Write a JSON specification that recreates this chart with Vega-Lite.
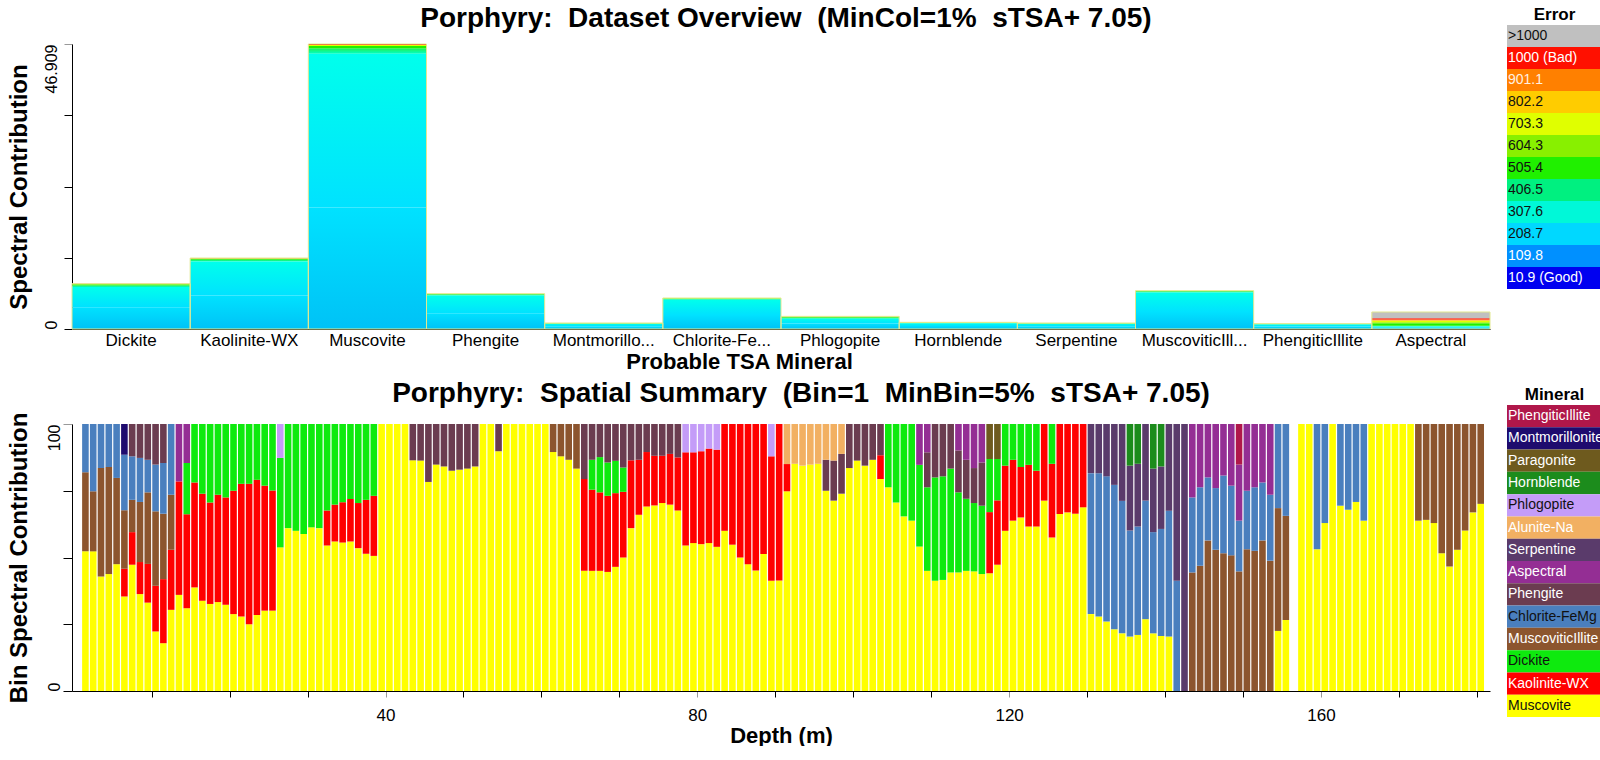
{
"$schema": "https://vega.github.io/schema/vega-lite/v6.json",
"background": "white",
"padding": {"left": 6, "top": 4, "right": 0, "bottom": 0},
"config": {"view": {"stroke": null}, "font": "Liberation Sans",
  "axis": {"grid": false, "domainColor": "black", "tickColor": "black", "labelColor": "black", "titleColor": "black", "labelFont": "Liberation Sans", "titleFont": "Liberation Sans"},
  "title": {"font": "Liberation Sans", "color": "black"}},
"columns": 2,
"align": "each",
"bounds": "full",
"spacing": {"row": 8, "column": 16},
"resolve": {"scale": {"color": "independent"}},
"datasets": {
"errorLevels": [{"level": ">1000"},{"level": "1000 (Bad)"},{"level": "901.1"},{"level": "802.2"},{"level": "703.3"},{"level": "604.3"},{"level": "505.4"},{"level": "406.5"},{"level": "307.6"},{"level": "208.7"},{"level": "109.8"},{"level": "10.9 (Good)"}],
"minerals": [{"mineral": "PhengiticIllite"},{"mineral": "Montmorillonite"},{"mineral": "Paragonite"},{"mineral": "Hornblende"},{"mineral": "Phlogopite"},{"mineral": "Alunite-Na"},{"mineral": "Serpentine"},{"mineral": "Aspectral"},{"mineral": "Phengite"},{"mineral": "Chlorite-FeMg"},{"mineral": "MuscoviticIllite"},{"mineral": "Dickite"},{"mineral": "Kaolinite-WX"},{"mineral": "Muscovite"}],
"overview": [
{"mineral":"Dickite","error":"208.7","value":3.6},{"mineral":"Dickite","error":"307.6","value":3.3},{"mineral":"Dickite","error":"406.5","value":0.3},{"mineral":"Dickite","error":"505.4","value":0.15},{"mineral":"Dickite","error":"703.3","value":0.06},{"mineral":"Dickite","error":"1000 (Bad)","value":0.05},
{"mineral":"Kaolinite-WX","error":"208.7","value":5.5},{"mineral":"Kaolinite-WX","error":"307.6","value":5.6},{"mineral":"Kaolinite-WX","error":"406.5","value":0.3},{"mineral":"Kaolinite-WX","error":"505.4","value":0.15},{"mineral":"Kaolinite-WX","error":"703.3","value":0.08},{"mineral":"Kaolinite-WX","error":"1000 (Bad)","value":0.05},
{"mineral":"Muscovite","error":"208.7","value":20.0},{"mineral":"Muscovite","error":"307.6","value":25.3},{"mineral":"Muscovite","error":"406.5","value":0.9},{"mineral":"Muscovite","error":"505.4","value":0.4},{"mineral":"Muscovite","error":"703.3","value":0.15},{"mineral":"Muscovite","error":"1000 (Bad)","value":0.159},
{"mineral":"Phengite","error":"208.7","value":2.6},{"mineral":"Phengite","error":"307.6","value":2.9},{"mineral":"Phengite","error":"406.5","value":0.2},{"mineral":"Phengite","error":"505.4","value":0.06},{"mineral":"Phengite","error":"703.3","value":0.05},
{"mineral":"Montmorillonite","error":"208.7","value":0.45},{"mineral":"Montmorillonite","error":"307.6","value":0.4},{"mineral":"Montmorillonite","error":"406.5","value":0.08},{"mineral":"Montmorillonite","error":"703.3","value":0.06},
{"mineral":"Chlorite-FeMg","error":"208.7","value":2.3},{"mineral":"Chlorite-FeMg","error":"307.6","value":2.5},{"mineral":"Chlorite-FeMg","error":"406.5","value":0.2},{"mineral":"Chlorite-FeMg","error":"505.4","value":0.05},{"mineral":"Chlorite-FeMg","error":"703.3","value":0.05},
{"mineral":"Phlogopite","error":"208.7","value":0.9},{"mineral":"Phlogopite","error":"307.6","value":0.8},{"mineral":"Phlogopite","error":"406.5","value":0.2},{"mineral":"Phlogopite","error":"505.4","value":0.12},{"mineral":"Phlogopite","error":"703.3","value":0.06},
{"mineral":"Hornblende","error":"208.7","value":0.5},{"mineral":"Hornblende","error":"307.6","value":0.45},{"mineral":"Hornblende","error":"406.5","value":0.08},{"mineral":"Hornblende","error":"703.3","value":0.07},
{"mineral":"Serpentine","error":"208.7","value":0.45},{"mineral":"Serpentine","error":"307.6","value":0.4},{"mineral":"Serpentine","error":"406.5","value":0.08},{"mineral":"Serpentine","error":"703.3","value":0.06},
{"mineral":"MuscoviticIllite","error":"208.7","value":2.8},{"mineral":"MuscoviticIllite","error":"307.6","value":3.2},{"mineral":"MuscoviticIllite","error":"406.5","value":0.2},{"mineral":"MuscoviticIllite","error":"505.4","value":0.05},{"mineral":"MuscoviticIllite","error":"703.3","value":0.05},
{"mineral":"PhengiticIllite","error":"208.7","value":0.4},{"mineral":"PhengiticIllite","error":"307.6","value":0.36},{"mineral":"PhengiticIllite","error":"406.5","value":0.07},{"mineral":"PhengiticIllite","error":"703.3","value":0.05},
{"mineral":"Aspectral","error":"208.7","value":0.2},{"mineral":"Aspectral","error":"307.6","value":0.2},{"mineral":"Aspectral","error":"406.5","value":0.15},{"mineral":"Aspectral","error":"505.4","value":0.4},{"mineral":"Aspectral","error":"604.3","value":0.15},{"mineral":"Aspectral","error":"703.3","value":0.25},{"mineral":"Aspectral","error":"802.2","value":0.1},{"mineral":"Aspectral","error":"901.1","value":0.1},{"mineral":"Aspectral","error":"1000 (Bad)","value":0.2},{"mineral":"Aspectral","error":">1000","value":1.05}
],
"spatial": [
{"depth":1.5,"mineral":"Muscovite","pct":52.3},{"depth":1.5,"mineral":"MuscoviticIllite","pct":29.6},{"depth":1.5,"mineral":"Chlorite-FeMg","pct":18.1},
{"depth":2.5,"mineral":"Muscovite","pct":52.3},{"depth":2.5,"mineral":"MuscoviticIllite","pct":22.5},{"depth":2.5,"mineral":"Chlorite-FeMg","pct":25.2},
{"depth":3.5,"mineral":"Muscovite","pct":42.9},{"depth":3.5,"mineral":"MuscoviticIllite","pct":40.6},{"depth":3.5,"mineral":"Chlorite-FeMg","pct":16.5},
{"depth":4.5,"mineral":"Muscovite","pct":43.8},{"depth":4.5,"mineral":"MuscoviticIllite","pct":40.1},{"depth":4.5,"mineral":"Chlorite-FeMg","pct":16.1},
{"depth":5.5,"mineral":"Muscovite","pct":47.5},{"depth":5.5,"mineral":"MuscoviticIllite","pct":32.3},{"depth":5.5,"mineral":"Chlorite-FeMg","pct":20.2},
{"depth":6.5,"mineral":"Muscovite","pct":35.4},{"depth":6.5,"mineral":"Kaolinite-WX","pct":10.4},{"depth":6.5,"mineral":"MuscoviticIllite","pct":21.9},{"depth":6.5,"mineral":"Chlorite-FeMg","pct":20.8},{"depth":6.5,"mineral":"Montmorillonite","pct":11.5},
{"depth":7.5,"mineral":"Muscovite","pct":47.3},{"depth":7.5,"mineral":"Kaolinite-WX","pct":12.2},{"depth":7.5,"mineral":"MuscoviticIllite","pct":12.1},{"depth":7.5,"mineral":"Chlorite-FeMg","pct":16.3},{"depth":7.5,"mineral":"Phengite","pct":12.1},
{"depth":8.5,"mineral":"Muscovite","pct":36.3},{"depth":8.5,"mineral":"Kaolinite-WX","pct":12.0},{"depth":8.5,"mineral":"MuscoviticIllite","pct":22.5},{"depth":8.5,"mineral":"Chlorite-FeMg","pct":16.5},{"depth":8.5,"mineral":"Phengite","pct":12.7},
{"depth":9.5,"mineral":"Muscovite","pct":33.1},{"depth":9.5,"mineral":"Kaolinite-WX","pct":14.5},{"depth":9.5,"mineral":"MuscoviticIllite","pct":26.8},{"depth":9.5,"mineral":"Chlorite-FeMg","pct":12.2},{"depth":9.5,"mineral":"Phengite","pct":13.4},
{"depth":10.5,"mineral":"Muscovite","pct":22.3},{"depth":10.5,"mineral":"Kaolinite-WX","pct":17.1},{"depth":10.5,"mineral":"MuscoviticIllite","pct":27.9},{"depth":10.5,"mineral":"Chlorite-FeMg","pct":17.5},{"depth":10.5,"mineral":"Phengite","pct":15.2},
{"depth":11.5,"mineral":"Muscovite","pct":17.9},{"depth":11.5,"mineral":"Kaolinite-WX","pct":24.0},{"depth":11.5,"mineral":"MuscoviticIllite","pct":24.5},{"depth":11.5,"mineral":"Chlorite-FeMg","pct":19.0},{"depth":11.5,"mineral":"Phengite","pct":14.6},
{"depth":12.5,"mineral":"Muscovite","pct":30.4},{"depth":12.5,"mineral":"Kaolinite-WX","pct":22.5},{"depth":12.5,"mineral":"MuscoviticIllite","pct":20.6},{"depth":12.5,"mineral":"Chlorite-FeMg","pct":26.5},
{"depth":13.5,"mineral":"Muscovite","pct":36.0},{"depth":13.5,"mineral":"Kaolinite-WX","pct":42.5},{"depth":13.5,"mineral":"Aspectral","pct":21.5},
{"depth":14.5,"mineral":"Muscovite","pct":31.0},{"depth":14.5,"mineral":"Kaolinite-WX","pct":35.2},{"depth":14.5,"mineral":"Dickite","pct":19.2},{"depth":14.5,"mineral":"Aspectral","pct":14.6},
{"depth":15.5,"mineral":"Muscovite","pct":38.8},{"depth":15.5,"mineral":"Kaolinite-WX","pct":39.3},{"depth":15.5,"mineral":"Dickite","pct":21.9},
{"depth":16.5,"mineral":"Muscovite","pct":33.8},{"depth":16.5,"mineral":"Kaolinite-WX","pct":40.1},{"depth":16.5,"mineral":"Dickite","pct":26.1},
{"depth":17.5,"mineral":"Muscovite","pct":32.6},{"depth":17.5,"mineral":"Kaolinite-WX","pct":38.0},{"depth":17.5,"mineral":"Dickite","pct":29.4},
{"depth":18.5,"mineral":"Muscovite","pct":33.3},{"depth":18.5,"mineral":"Kaolinite-WX","pct":40.2},{"depth":18.5,"mineral":"Dickite","pct":26.5},
{"depth":19.5,"mineral":"Muscovite","pct":32.3},{"depth":19.5,"mineral":"Kaolinite-WX","pct":40.2},{"depth":19.5,"mineral":"Dickite","pct":27.5},
{"depth":20.5,"mineral":"Muscovite","pct":28.8},{"depth":20.5,"mineral":"Kaolinite-WX","pct":46.2},{"depth":20.5,"mineral":"Dickite","pct":25.0},
{"depth":21.5,"mineral":"Muscovite","pct":27.9},{"depth":21.5,"mineral":"Kaolinite-WX","pct":49.7},{"depth":21.5,"mineral":"Dickite","pct":22.4},
{"depth":22.5,"mineral":"Muscovite","pct":25.0},{"depth":22.5,"mineral":"Kaolinite-WX","pct":52.6},{"depth":22.5,"mineral":"Dickite","pct":22.4},
{"depth":23.5,"mineral":"Muscovite","pct":28.5},{"depth":23.5,"mineral":"Kaolinite-WX","pct":50.6},{"depth":23.5,"mineral":"Dickite","pct":20.9},
{"depth":24.5,"mineral":"Muscovite","pct":30.1},{"depth":24.5,"mineral":"Kaolinite-WX","pct":46.8},{"depth":24.5,"mineral":"Dickite","pct":23.1},
{"depth":25.5,"mineral":"Muscovite","pct":30.1},{"depth":25.5,"mineral":"Kaolinite-WX","pct":45.0},{"depth":25.5,"mineral":"Dickite","pct":24.9},
{"depth":26.5,"mineral":"Muscovite","pct":53.8},{"depth":26.5,"mineral":"Dickite","pct":33.5},{"depth":26.5,"mineral":"Phlogopite","pct":12.7},
{"depth":27.5,"mineral":"Muscovite","pct":61.0},{"depth":27.5,"mineral":"Dickite","pct":39.0},
{"depth":28.5,"mineral":"Muscovite","pct":60.0},{"depth":28.5,"mineral":"Dickite","pct":40.0},
{"depth":29.5,"mineral":"Muscovite","pct":58.8},{"depth":29.5,"mineral":"Dickite","pct":41.2},
{"depth":30.5,"mineral":"Muscovite","pct":61.3},{"depth":30.5,"mineral":"Dickite","pct":38.7},
{"depth":31.5,"mineral":"Muscovite","pct":61.0},{"depth":31.5,"mineral":"Dickite","pct":39.0},
{"depth":32.5,"mineral":"Muscovite","pct":54.5},{"depth":32.5,"mineral":"Kaolinite-WX","pct":13.1},{"depth":32.5,"mineral":"Dickite","pct":32.4},
{"depth":33.5,"mineral":"Muscovite","pct":56.0},{"depth":33.5,"mineral":"Kaolinite-WX","pct":13.8},{"depth":33.5,"mineral":"Dickite","pct":30.2},
{"depth":34.5,"mineral":"Muscovite","pct":55.6},{"depth":34.5,"mineral":"Kaolinite-WX","pct":15.1},{"depth":34.5,"mineral":"Dickite","pct":29.3},
{"depth":35.5,"mineral":"Muscovite","pct":56.0},{"depth":35.5,"mineral":"Kaolinite-WX","pct":15.9},{"depth":35.5,"mineral":"Dickite","pct":28.1},
{"depth":36.5,"mineral":"Muscovite","pct":53.5},{"depth":36.5,"mineral":"Kaolinite-WX","pct":16.9},{"depth":36.5,"mineral":"Dickite","pct":29.6},
{"depth":37.5,"mineral":"Muscovite","pct":51.4},{"depth":37.5,"mineral":"Kaolinite-WX","pct":20.2},{"depth":37.5,"mineral":"Dickite","pct":28.4},
{"depth":38.5,"mineral":"Muscovite","pct":50.6},{"depth":38.5,"mineral":"Kaolinite-WX","pct":22.5},{"depth":38.5,"mineral":"Dickite","pct":26.9},
{"depth":39.5,"mineral":"Muscovite","pct":100},{"depth":40.5,"mineral":"Muscovite","pct":100},{"depth":41.5,"mineral":"Muscovite","pct":100},{"depth":42.5,"mineral":"Muscovite","pct":100},
{"depth":43.5,"mineral":"Muscovite","pct":86.4},{"depth":43.5,"mineral":"Phengite","pct":13.6},
{"depth":44.5,"mineral":"Muscovite","pct":86.3},{"depth":44.5,"mineral":"Phengite","pct":13.7},
{"depth":45.5,"mineral":"Muscovite","pct":78.3},{"depth":45.5,"mineral":"Phengite","pct":21.7},
{"depth":46.5,"mineral":"Muscovite","pct":84.8},{"depth":46.5,"mineral":"Phengite","pct":15.2},
{"depth":47.5,"mineral":"Muscovite","pct":84.1},{"depth":47.5,"mineral":"Phengite","pct":15.9},
{"depth":48.5,"mineral":"Muscovite","pct":82.5},{"depth":48.5,"mineral":"Phengite","pct":17.5},
{"depth":49.5,"mineral":"Muscovite","pct":82.9},{"depth":49.5,"mineral":"Phengite","pct":17.1},
{"depth":50.5,"mineral":"Muscovite","pct":83.3},{"depth":50.5,"mineral":"Phengite","pct":16.7},
{"depth":51.5,"mineral":"Muscovite","pct":84.1},{"depth":51.5,"mineral":"Phengite","pct":15.9},
{"depth":52.5,"mineral":"Muscovite","pct":100},{"depth":53.5,"mineral":"Muscovite","pct":100},
{"depth":54.5,"mineral":"Muscovite","pct":89.8},{"depth":54.5,"mineral":"Phengite","pct":10.2},
{"depth":55.5,"mineral":"Muscovite","pct":100},{"depth":56.5,"mineral":"Muscovite","pct":100},{"depth":57.5,"mineral":"Muscovite","pct":100},{"depth":58.5,"mineral":"Muscovite","pct":100},{"depth":59.5,"mineral":"Muscovite","pct":100},{"depth":60.5,"mineral":"Muscovite","pct":100},
{"depth":61.5,"mineral":"Muscovite","pct":89.5},{"depth":61.5,"mineral":"MuscoviticIllite","pct":10.5},
{"depth":62.5,"mineral":"Muscovite","pct":87.9},{"depth":62.5,"mineral":"MuscoviticIllite","pct":12.1},
{"depth":63.5,"mineral":"Muscovite","pct":86.6},{"depth":63.5,"mineral":"MuscoviticIllite","pct":13.4},
{"depth":64.5,"mineral":"Muscovite","pct":83.3},{"depth":64.5,"mineral":"MuscoviticIllite","pct":16.7},
{"depth":65.5,"mineral":"Muscovite","pct":45.0},{"depth":65.5,"mineral":"Kaolinite-WX","pct":34.4},{"depth":65.5,"mineral":"Phengite","pct":20.6},
{"depth":66.5,"mineral":"Muscovite","pct":45.0},{"depth":66.5,"mineral":"Kaolinite-WX","pct":30.4},{"depth":66.5,"mineral":"Dickite","pct":11.2},{"depth":66.5,"mineral":"Phengite","pct":13.4},
{"depth":67.5,"mineral":"Muscovite","pct":45.0},{"depth":67.5,"mineral":"Kaolinite-WX","pct":29.4},{"depth":67.5,"mineral":"Dickite","pct":13.2},{"depth":67.5,"mineral":"Phengite","pct":12.4},
{"depth":68.5,"mineral":"Muscovite","pct":44.6},{"depth":68.5,"mineral":"Kaolinite-WX","pct":28.5},{"depth":68.5,"mineral":"Dickite","pct":12.5},{"depth":68.5,"mineral":"Phengite","pct":14.4},
{"depth":69.5,"mineral":"Muscovite","pct":46.5},{"depth":69.5,"mineral":"Kaolinite-WX","pct":27.6},{"depth":69.5,"mineral":"Dickite","pct":12.1},{"depth":69.5,"mineral":"Phengite","pct":13.8},
{"depth":70.5,"mineral":"Muscovite","pct":50.0},{"depth":70.5,"mineral":"Kaolinite-WX","pct":24.6},{"depth":70.5,"mineral":"Dickite","pct":9.1},{"depth":70.5,"mineral":"Phengite","pct":16.3},
{"depth":71.5,"mineral":"Muscovite","pct":61.0},{"depth":71.5,"mineral":"Kaolinite-WX","pct":25.4},{"depth":71.5,"mineral":"Phengite","pct":13.6},
{"depth":72.5,"mineral":"Muscovite","pct":66.0},{"depth":72.5,"mineral":"Kaolinite-WX","pct":20.6},{"depth":72.5,"mineral":"Phengite","pct":13.4},
{"depth":73.5,"mineral":"Muscovite","pct":69.1},{"depth":73.5,"mineral":"Kaolinite-WX","pct":20.4},{"depth":73.5,"mineral":"Phengite","pct":10.5},
{"depth":74.5,"mineral":"Muscovite","pct":69.5},{"depth":74.5,"mineral":"Kaolinite-WX","pct":18.6},{"depth":74.5,"mineral":"Phengite","pct":11.9},
{"depth":75.5,"mineral":"Muscovite","pct":70.4},{"depth":75.5,"mineral":"Kaolinite-WX","pct":17.7},{"depth":75.5,"mineral":"Phengite","pct":11.9},
{"depth":76.5,"mineral":"Muscovite","pct":69.8},{"depth":76.5,"mineral":"Kaolinite-WX","pct":19.0},{"depth":76.5,"mineral":"Phengite","pct":11.2},
{"depth":77.5,"mineral":"Muscovite","pct":67.6},{"depth":77.5,"mineral":"Kaolinite-WX","pct":19.9},{"depth":77.5,"mineral":"Phengite","pct":12.5},
{"depth":78.5,"mineral":"Muscovite","pct":54.5},{"depth":78.5,"mineral":"Kaolinite-WX","pct":34.9},{"depth":78.5,"mineral":"Phlogopite","pct":10.6},
{"depth":79.5,"mineral":"Muscovite","pct":55.4},{"depth":79.5,"mineral":"Kaolinite-WX","pct":34.0},{"depth":79.5,"mineral":"Phlogopite","pct":10.6},
{"depth":80.5,"mineral":"Muscovite","pct":55.0},{"depth":80.5,"mineral":"Kaolinite-WX","pct":34.8},{"depth":80.5,"mineral":"Phlogopite","pct":10.2},
{"depth":81.5,"mineral":"Muscovite","pct":55.4},{"depth":81.5,"mineral":"Kaolinite-WX","pct":35.4},{"depth":81.5,"mineral":"Phlogopite","pct":9.2},
{"depth":82.5,"mineral":"Muscovite","pct":54.0},{"depth":82.5,"mineral":"Kaolinite-WX","pct":36.4},{"depth":82.5,"mineral":"Phlogopite","pct":9.6},
{"depth":83.5,"mineral":"Muscovite","pct":60.0},{"depth":83.5,"mineral":"Kaolinite-WX","pct":40.0},
{"depth":84.5,"mineral":"Muscovite","pct":54.8},{"depth":84.5,"mineral":"Kaolinite-WX","pct":45.2},
{"depth":85.5,"mineral":"Muscovite","pct":50.0},{"depth":85.5,"mineral":"Kaolinite-WX","pct":50.0},
{"depth":86.5,"mineral":"Muscovite","pct":47.5},{"depth":86.5,"mineral":"Kaolinite-WX","pct":52.5},
{"depth":87.5,"mineral":"Muscovite","pct":45.1},{"depth":87.5,"mineral":"Kaolinite-WX","pct":54.9},
{"depth":88.5,"mineral":"Muscovite","pct":51.3},{"depth":88.5,"mineral":"Kaolinite-WX","pct":48.7},
{"depth":89.5,"mineral":"Muscovite","pct":41.3},{"depth":89.5,"mineral":"Kaolinite-WX","pct":46.6},{"depth":89.5,"mineral":"Phlogopite","pct":12.1},
{"depth":90.5,"mineral":"Muscovite","pct":41.4},{"depth":90.5,"mineral":"Kaolinite-WX","pct":58.6},
{"depth":91.5,"mineral":"Muscovite","pct":74.8},{"depth":91.5,"mineral":"Kaolinite-WX","pct":10.2},{"depth":91.5,"mineral":"Alunite-Na","pct":15.0},
{"depth":92.5,"mineral":"Muscovite","pct":85.1},{"depth":92.5,"mineral":"Alunite-Na","pct":14.9},
{"depth":93.5,"mineral":"Muscovite","pct":84.4},{"depth":93.5,"mineral":"Alunite-Na","pct":15.6},
{"depth":94.5,"mineral":"Muscovite","pct":84.8},{"depth":94.5,"mineral":"Alunite-Na","pct":15.2},
{"depth":95.5,"mineral":"Muscovite","pct":85.1},{"depth":95.5,"mineral":"Alunite-Na","pct":14.9},
{"depth":96.5,"mineral":"Muscovite","pct":75.0},{"depth":96.5,"mineral":"Phengite","pct":11.6},{"depth":96.5,"mineral":"Alunite-Na","pct":13.4},
{"depth":97.5,"mineral":"Muscovite","pct":71.3},{"depth":97.5,"mineral":"Phengite","pct":15.0},{"depth":97.5,"mineral":"Alunite-Na","pct":13.7},
{"depth":98.5,"mineral":"Muscovite","pct":73.9},{"depth":98.5,"mineral":"Phengite","pct":14.9},{"depth":98.5,"mineral":"Alunite-Na","pct":11.2},
{"depth":99.5,"mineral":"Muscovite","pct":83.5},{"depth":99.5,"mineral":"Phengite","pct":16.5},
{"depth":100.5,"mineral":"Muscovite","pct":86.3},{"depth":100.5,"mineral":"Phengite","pct":13.7},
{"depth":101.5,"mineral":"Muscovite","pct":84.4},{"depth":101.5,"mineral":"Phengite","pct":15.6},
{"depth":102.5,"mineral":"Muscovite","pct":86.6},{"depth":102.5,"mineral":"Phengite","pct":13.4},
{"depth":103.5,"mineral":"Muscovite","pct":79.4},{"depth":103.5,"mineral":"Kaolinite-WX","pct":8.9},{"depth":103.5,"mineral":"Phengite","pct":11.7},
{"depth":104.5,"mineral":"Muscovite","pct":76.3},{"depth":104.5,"mineral":"Dickite","pct":23.7},
{"depth":105.5,"mineral":"Muscovite","pct":70.6},{"depth":105.5,"mineral":"Dickite","pct":29.4},
{"depth":106.5,"mineral":"Muscovite","pct":65.4},{"depth":106.5,"mineral":"Dickite","pct":34.6},
{"depth":107.5,"mineral":"Muscovite","pct":63.8},{"depth":107.5,"mineral":"Dickite","pct":36.2},
{"depth":108.5,"mineral":"Muscovite","pct":54.1},{"depth":108.5,"mineral":"Dickite","pct":30.6},{"depth":108.5,"mineral":"Aspectral","pct":15.3},
{"depth":109.5,"mineral":"Muscovite","pct":45.0},{"depth":109.5,"mineral":"Dickite","pct":31.3},{"depth":109.5,"mineral":"Phengite","pct":13.1},{"depth":109.5,"mineral":"Aspectral","pct":10.6},
{"depth":110.5,"mineral":"Muscovite","pct":41.3},{"depth":110.5,"mineral":"Dickite","pct":38.7},{"depth":110.5,"mineral":"Phengite","pct":20.0},
{"depth":111.5,"mineral":"Muscovite","pct":41.6},{"depth":111.5,"mineral":"Dickite","pct":38.8},{"depth":111.5,"mineral":"Phengite","pct":19.6},
{"depth":112.5,"mineral":"Muscovite","pct":44.4},{"depth":112.5,"mineral":"Dickite","pct":38.9},{"depth":112.5,"mineral":"Phengite","pct":16.7},
{"depth":113.5,"mineral":"Muscovite","pct":44.4},{"depth":113.5,"mineral":"Dickite","pct":30.0},{"depth":113.5,"mineral":"Phengite","pct":15.7},{"depth":113.5,"mineral":"Aspectral","pct":9.9},
{"depth":114.5,"mineral":"Muscovite","pct":45.0},{"depth":114.5,"mineral":"Dickite","pct":27.0},{"depth":114.5,"mineral":"Phengite","pct":14.6},{"depth":114.5,"mineral":"Aspectral","pct":13.4},
{"depth":115.5,"mineral":"Muscovite","pct":44.8},{"depth":115.5,"mineral":"Dickite","pct":25.6},{"depth":115.5,"mineral":"Phengite","pct":13.1},{"depth":115.5,"mineral":"Aspectral","pct":16.5},
{"depth":116.5,"mineral":"Muscovite","pct":43.8},{"depth":116.5,"mineral":"Dickite","pct":25.6},{"depth":116.5,"mineral":"Phengite","pct":16.2},{"depth":116.5,"mineral":"Aspectral","pct":14.4},
{"depth":117.5,"mineral":"Muscovite","pct":44.1},{"depth":117.5,"mineral":"Kaolinite-WX","pct":22.9},{"depth":117.5,"mineral":"Dickite","pct":19.9},{"depth":117.5,"mineral":"Paragonite","pct":13.1},
{"depth":118.5,"mineral":"Muscovite","pct":47.3},{"depth":118.5,"mineral":"Kaolinite-WX","pct":24.1},{"depth":118.5,"mineral":"Dickite","pct":15.5},{"depth":118.5,"mineral":"Paragonite","pct":13.1},
{"depth":119.5,"mineral":"Muscovite","pct":60.0},{"depth":119.5,"mineral":"Kaolinite-WX","pct":24.4},{"depth":119.5,"mineral":"Dickite","pct":15.6},
{"depth":120.5,"mineral":"Muscovite","pct":63.8},{"depth":120.5,"mineral":"Kaolinite-WX","pct":22.8},{"depth":120.5,"mineral":"Dickite","pct":13.4},
{"depth":121.5,"mineral":"Muscovite","pct":65.0},{"depth":121.5,"mineral":"Kaolinite-WX","pct":18.9},{"depth":121.5,"mineral":"Dickite","pct":16.1},
{"depth":122.5,"mineral":"Muscovite","pct":61.6},{"depth":122.5,"mineral":"Kaolinite-WX","pct":23.1},{"depth":122.5,"mineral":"Dickite","pct":15.3},
{"depth":123.5,"mineral":"Muscovite","pct":61.6},{"depth":123.5,"mineral":"Kaolinite-WX","pct":20.9},{"depth":123.5,"mineral":"Dickite","pct":17.5},
{"depth":124.5,"mineral":"Muscovite","pct":71.3},{"depth":124.5,"mineral":"Kaolinite-WX","pct":28.7},
{"depth":125.5,"mineral":"Muscovite","pct":57.5},{"depth":125.5,"mineral":"Kaolinite-WX","pct":27.6},{"depth":125.5,"mineral":"Dickite","pct":14.9},
{"depth":126.5,"mineral":"Muscovite","pct":66.3},{"depth":126.5,"mineral":"Kaolinite-WX","pct":33.7},
{"depth":127.5,"mineral":"Muscovite","pct":66.9},{"depth":127.5,"mineral":"Kaolinite-WX","pct":33.1},
{"depth":128.5,"mineral":"Muscovite","pct":66.4},{"depth":128.5,"mineral":"Kaolinite-WX","pct":33.6},
{"depth":129.5,"mineral":"Muscovite","pct":68.8},{"depth":129.5,"mineral":"Kaolinite-WX","pct":31.2},
{"depth":130.5,"mineral":"Muscovite","pct":28.8},{"depth":130.5,"mineral":"Chlorite-FeMg","pct":52.8},{"depth":130.5,"mineral":"Serpentine","pct":18.4},
{"depth":131.5,"mineral":"Muscovite","pct":27.9},{"depth":131.5,"mineral":"Chlorite-FeMg","pct":53.7},{"depth":131.5,"mineral":"Serpentine","pct":18.4},
{"depth":132.5,"mineral":"Muscovite","pct":26.0},{"depth":132.5,"mineral":"Chlorite-FeMg","pct":54.4},{"depth":132.5,"mineral":"Serpentine","pct":19.6},
{"depth":133.5,"mineral":"Muscovite","pct":23.1},{"depth":133.5,"mineral":"Chlorite-FeMg","pct":54.1},{"depth":133.5,"mineral":"Serpentine","pct":22.8},
{"depth":134.5,"mineral":"Muscovite","pct":21.6},{"depth":134.5,"mineral":"Chlorite-FeMg","pct":49.6},{"depth":134.5,"mineral":"Serpentine","pct":28.8},
{"depth":135.5,"mineral":"Muscovite","pct":20.4},{"depth":135.5,"mineral":"Chlorite-FeMg","pct":39.7},{"depth":135.5,"mineral":"Serpentine","pct":24.3},{"depth":135.5,"mineral":"Hornblende","pct":15.6},
{"depth":136.5,"mineral":"Muscovite","pct":21.0},{"depth":136.5,"mineral":"Chlorite-FeMg","pct":40.6},{"depth":136.5,"mineral":"Serpentine","pct":23.5},{"depth":136.5,"mineral":"Hornblende","pct":14.9},
{"depth":137.5,"mineral":"Muscovite","pct":26.9},{"depth":137.5,"mineral":"Chlorite-FeMg","pct":44.4},{"depth":137.5,"mineral":"Serpentine","pct":28.7},
{"depth":138.5,"mineral":"Muscovite","pct":21.6},{"depth":138.5,"mineral":"Chlorite-FeMg","pct":37.9},{"depth":138.5,"mineral":"Serpentine","pct":23.8},{"depth":138.5,"mineral":"Hornblende","pct":16.7},
{"depth":139.5,"mineral":"Muscovite","pct":20.6},{"depth":139.5,"mineral":"Chlorite-FeMg","pct":40.1},{"depth":139.5,"mineral":"Serpentine","pct":23.4},{"depth":139.5,"mineral":"Hornblende","pct":15.9},
{"depth":140.5,"mineral":"Muscovite","pct":20.4},{"depth":140.5,"mineral":"Chlorite-FeMg","pct":47.1},{"depth":140.5,"mineral":"Serpentine","pct":32.5},
{"depth":141.5,"mineral":"Chlorite-FeMg","pct":41.3},{"depth":141.5,"mineral":"Serpentine","pct":58.7},
{"depth":142.5,"mineral":"Serpentine","pct":100},
{"depth":143.5,"mineral":"MuscoviticIllite","pct":44.4},{"depth":143.5,"mineral":"Chlorite-FeMg","pct":28.1},{"depth":143.5,"mineral":"Aspectral","pct":27.5},
{"depth":144.5,"mineral":"MuscoviticIllite","pct":46.9},{"depth":144.5,"mineral":"Chlorite-FeMg","pct":29.4},{"depth":144.5,"mineral":"Aspectral","pct":23.7},
{"depth":145.5,"mineral":"MuscoviticIllite","pct":56.4},{"depth":145.5,"mineral":"Chlorite-FeMg","pct":23.6},{"depth":145.5,"mineral":"Aspectral","pct":20.0},
{"depth":146.5,"mineral":"MuscoviticIllite","pct":52.9},{"depth":146.5,"mineral":"Chlorite-FeMg","pct":23.1},{"depth":146.5,"mineral":"Aspectral","pct":24.0},
{"depth":147.5,"mineral":"MuscoviticIllite","pct":51.6},{"depth":147.5,"mineral":"Chlorite-FeMg","pct":29.1},{"depth":147.5,"mineral":"Aspectral","pct":19.3},
{"depth":148.5,"mineral":"MuscoviticIllite","pct":50.8},{"depth":148.5,"mineral":"Chlorite-FeMg","pct":26.1},{"depth":148.5,"mineral":"Aspectral","pct":23.1},
{"depth":149.5,"mineral":"MuscoviticIllite","pct":44.8},{"depth":149.5,"mineral":"Chlorite-FeMg","pct":19.0},{"depth":149.5,"mineral":"Aspectral","pct":21.0},{"depth":149.5,"mineral":"PhengiticIllite","pct":15.2},
{"depth":150.5,"mineral":"MuscoviticIllite","pct":53.1},{"depth":150.5,"mineral":"Chlorite-FeMg","pct":21.9},{"depth":150.5,"mineral":"Aspectral","pct":25.0},
{"depth":151.5,"mineral":"MuscoviticIllite","pct":52.5},{"depth":151.5,"mineral":"Chlorite-FeMg","pct":23.8},{"depth":151.5,"mineral":"Aspectral","pct":23.7},
{"depth":152.5,"mineral":"MuscoviticIllite","pct":56.4},{"depth":152.5,"mineral":"Chlorite-FeMg","pct":21.7},{"depth":152.5,"mineral":"Aspectral","pct":21.9},
{"depth":153.5,"mineral":"MuscoviticIllite","pct":48.8},{"depth":153.5,"mineral":"Chlorite-FeMg","pct":24.7},{"depth":153.5,"mineral":"Aspectral","pct":26.5},
{"depth":154.5,"mineral":"Muscovite","pct":22.5},{"depth":154.5,"mineral":"MuscoviticIllite","pct":46.0},{"depth":154.5,"mineral":"Chlorite-FeMg","pct":31.5},
{"depth":155.5,"mineral":"Muscovite","pct":26.6},{"depth":155.5,"mineral":"MuscoviticIllite","pct":39.0},{"depth":155.5,"mineral":"Chlorite-FeMg","pct":34.4},
{"depth":157.5,"mineral":"Muscovite","pct":100},{"depth":158.5,"mineral":"Muscovite","pct":100},
{"depth":159.5,"mineral":"Muscovite","pct":53.1},{"depth":159.5,"mineral":"Chlorite-FeMg","pct":46.9},
{"depth":160.5,"mineral":"Muscovite","pct":62.9},{"depth":160.5,"mineral":"Chlorite-FeMg","pct":37.1},
{"depth":161.5,"mineral":"Muscovite","pct":100},
{"depth":162.5,"mineral":"Muscovite","pct":69.4},{"depth":162.5,"mineral":"Chlorite-FeMg","pct":30.6},
{"depth":163.5,"mineral":"Muscovite","pct":67.9},{"depth":163.5,"mineral":"Chlorite-FeMg","pct":32.1},
{"depth":164.5,"mineral":"Muscovite","pct":70.8},{"depth":164.5,"mineral":"Chlorite-FeMg","pct":29.2},
{"depth":165.5,"mineral":"Muscovite","pct":63.8},{"depth":165.5,"mineral":"Chlorite-FeMg","pct":36.2},
{"depth":166.5,"mineral":"Muscovite","pct":100},{"depth":167.5,"mineral":"Muscovite","pct":100},{"depth":168.5,"mineral":"Muscovite","pct":100},{"depth":169.5,"mineral":"Muscovite","pct":100},{"depth":170.5,"mineral":"Muscovite","pct":100},{"depth":171.5,"mineral":"Muscovite","pct":100},
{"depth":172.5,"mineral":"Muscovite","pct":63.8},{"depth":172.5,"mineral":"MuscoviticIllite","pct":36.2},
{"depth":173.5,"mineral":"Muscovite","pct":64.1},{"depth":173.5,"mineral":"MuscoviticIllite","pct":35.9},
{"depth":174.5,"mineral":"Muscovite","pct":62.9},{"depth":174.5,"mineral":"MuscoviticIllite","pct":37.1},
{"depth":175.5,"mineral":"Muscovite","pct":51.6},{"depth":175.5,"mineral":"MuscoviticIllite","pct":48.4},
{"depth":176.5,"mineral":"Muscovite","pct":46.6},{"depth":176.5,"mineral":"MuscoviticIllite","pct":53.4},
{"depth":177.5,"mineral":"Muscovite","pct":52.9},{"depth":177.5,"mineral":"MuscoviticIllite","pct":47.1},
{"depth":178.5,"mineral":"Muscovite","pct":60.1},{"depth":178.5,"mineral":"MuscoviticIllite","pct":39.9},
{"depth":179.5,"mineral":"Muscovite","pct":66.9},{"depth":179.5,"mineral":"MuscoviticIllite","pct":33.1},
{"depth":180.5,"mineral":"Muscovite","pct":70.1},{"depth":180.5,"mineral":"MuscoviticIllite","pct":29.9}
]
},
"concat": [
{
 "width": 1418, "height": 285,
 "data": {"name": "overview"},
 "transform": [{"calculate": "indexof(['10.9 (Good)','109.8','208.7','307.6','406.5','505.4','604.3','703.3','802.2','901.1','1000 (Bad)','>1000'], datum.error)", "as": "errorRank"}],
 "title": {"text": "Porphyry:\u00a0 Dataset Overview\u00a0 (MinCol=1%\u00a0 sTSA+ 7.05)", "fontSize": 28, "fontWeight": "bold", "offset": 11, "dx": 5, "anchor": "middle"},
 "encoding": {
   "x": {"field": "mineral", "type": "nominal",
     "sort": ["Dickite","Kaolinite-WX","Muscovite","Phengite","Montmorillonite","Chlorite-FeMg","Phlogopite","Hornblende","Serpentine","MuscoviticIllite","PhengiticIllite","Aspectral"],
     "scale": {"paddingInner": 0, "paddingOuter": 0},
     "axis": {"title": "Probable TSA Mineral", "titleFontSize": 22, "titleFontWeight": "bold", "titleX": 667, "labelFontSize": 17, "labelAngle": 0, "ticks": false, "tickSize": 0, "labelPadding": 3, "titlePadding": 3,
       "labelExpr": "datum.value == 'Montmorillonite' ? 'Montmorillo...' : datum.value == 'Chlorite-FeMg' ? 'Chlorite-Fe...' : datum.value == 'MuscoviticIllite' ? 'MuscoviticIll...' : datum.value"}}
 },
 "layer": [
  {
   "mark": {"type": "bar"},
   "encoding": {
     "y": {"field": "value", "type": "quantitative", "stack": "zero",
       "scale": {"domain": [0, 46.909], "nice": false},
       "axis": {"title": "Spectral Contribution", "titleFontSize": 24, "titleFontWeight": "bold", "titlePadding": 11, "minExtent": 30, "maxExtent": 30,
         "values": [0, 11.72725, 23.4545, 35.18175, 46.909], "labelExpr": "datum.value == 0 ? '0' : datum.value > 46 ? '46.909' : ''",
         "labelAngle": -90, "labelFontSize": 16, "labelBaseline": "alphabetic",
         "labelAlign": {"condition": {"test": "datum.value == 0", "value": "left"}, "value": "right"},
         "tickColor": {"condition": {"test": "datum.value > 46", "value": "#999999"}, "value": "black"},
         "tickSize": 8, "labelPadding": 8}},
     "order": {"field": "errorRank", "type": "quantitative", "sort": "ascending"},
     "color": {"field": "error", "type": "nominal",
       "scale": {"domain": ["10.9 (Good)","109.8","208.7","307.6","406.5","505.4","604.3","703.3","802.2","901.1","1000 (Bad)",">1000"],
                 "range": ["#0000F0","#0090FF","#00D8FF","#00F8D8","#00F080","#20F000","#88F000","#E0FF00","#FFCC00","#FF8000","#FF1000","#C0C0C0"]},
       "legend": null,
       "condition": [
         {"test": "datum.error === '208.7'", "value": {"gradient": "linear", "x1": 0, "y1": 1, "x2": 0, "y2": 0, "stops": [{"offset": 0, "color": "#00C2F6"}, {"offset": 1, "color": "#00E2FF"}]}},
         {"test": "datum.error === '307.6'", "value": {"gradient": "linear", "x1": 0, "y1": 1, "x2": 0, "y2": 0, "stops": [{"offset": 0, "color": "#00E2FF"}, {"offset": 1, "color": "#00FFEC"}]}},
         {"test": "datum.error === '406.5'", "value": {"gradient": "linear", "x1": 0, "y1": 1, "x2": 0, "y2": 0, "stops": [{"offset": 0, "color": "#00FFC8"}, {"offset": 1, "color": "#20F050"}]}}
       ]}
   }
  },
  {
   "mark": {"type": "bar", "fillOpacity": 0, "stroke": "#E2E890", "strokeWidth": 1},
   "encoding": {
     "y": {"aggregate": "sum", "field": "value", "type": "quantitative",
       "axis": {"title": "Spectral Contribution", "titleFontSize": 24, "titleFontWeight": "bold", "titlePadding": 11, "minExtent": 30, "maxExtent": 30,
         "values": [0, 11.72725, 23.4545, 35.18175, 46.909], "labelExpr": "datum.value == 0 ? '0' : datum.value > 46 ? '46.909' : ''",
         "labelAngle": -90, "labelFontSize": 16, "labelBaseline": "alphabetic",
         "labelAlign": {"condition": {"test": "datum.value == 0", "value": "left"}, "value": "right"},
         "tickColor": {"condition": {"test": "datum.value > 46", "value": "#999999"}, "value": "black"},
         "tickSize": 8, "labelPadding": 8}}
   }
  }
 ]
},
{
 "width": 95, "height": 245,
 "data": {"name": "errorLevels"},
 "title": {"text": "Error", "fontSize": 17, "fontWeight": "bold", "offset": 1, "anchor": "middle"},
 "encoding": {
   "y": {"field": "level", "type": "nominal", "sort": null, "axis": null, "scale": {"paddingInner": 0, "paddingOuter": 0, "range": [-19, 245]}}
 },
 "layer": [
  {"mark": {"type": "rect"},
   "encoding": {
     "x": {"datum": 0, "type": "quantitative", "scale": {"domain": [0, 1]}, "axis": null},
     "x2": {"datum": 1},
     "color": {"field": "level", "type": "nominal", "legend": null,
       "scale": {"domain": [">1000","1000 (Bad)","901.1","802.2","703.3","604.3","505.4","406.5","307.6","208.7","109.8","10.9 (Good)"],
                 "range": ["#C0C0C0","#FF1000","#FF8000","#FFCC00","#E0FF00","#88F000","#20F000","#00F080","#00F8D8","#00D8FF","#0090FF","#0000F0"]}}}},
  {"mark": {"type": "text", "align": "left", "baseline": "middle", "fontSize": 14, "font": "Liberation Sans", "dx": 1},
   "encoding": {
     "x": {"datum": 0, "type": "quantitative"},
     "text": {"field": "level"},
     "color": {"field": "level", "type": "nominal", "legend": null,
       "scale": {"domain": [">1000","1000 (Bad)","901.1","802.2","703.3","604.3","505.4","406.5","307.6","208.7","109.8","10.9 (Good)"],
                 "range": ["#111111","#FFFFFF","#FFF0E0","#111111","#111111","#111111","#111111","#111111","#111111","#111111","#FFFFFF","#FFFFFF"]}}}}
 ],
 "resolve": {"scale": {"color": "independent"}}
},
{
 "width": 1418, "height": 267,
 "data": {"name": "spatial"},
 "transform": [{"calculate": "indexof(['Muscovite','Kaolinite-WX','Dickite','MuscoviticIllite','Chlorite-FeMg','Phengite','Aspectral','Serpentine','Alunite-Na','Phlogopite','Hornblende','Paragonite','Montmorillonite','PhengiticIllite'], datum.mineral)", "as": "stackRank"}],
 "title": {"text": "Porphyry:\u00a0 Spatial Summary\u00a0 (Bin=1\u00a0 MinBin=5%\u00a0 sTSA+ 7.05)", "fontSize": 28, "fontWeight": "bold", "offset": 4, "dx": 20, "anchor": "middle"},
 "mark": {"type": "bar", "width": 6.6},
 "encoding": {
   "x": {"field": "depth", "type": "quantitative",
     "scale": {"domain": [0.42, 181.05], "nice": false, "zero": false},
     "axis": {"title": "Depth (m)", "titleFontSize": 22, "titleFontWeight": "bold", "values": [10,20,30,40,50,60,70,80,90,100,110,120,130,140,150,160,170,180],
       "labelExpr": "datum.value % 40 == 0 ? datum.label : ''", "labelFontSize": 17, "tickSize": 6, "labelPadding": 10, "titlePadding": 2,
       "tickColor": {"condition": {"test": "datum.value % 40 == 0", "value": "#999999"}, "value": "black"}}},
   "y": {"field": "pct", "type": "quantitative", "stack": "zero",
     "scale": {"domain": [0, 100], "nice": false},
     "axis": {"title": "Bin Spectral Contribution", "titleFontSize": 24, "titleFontWeight": "bold", "titlePadding": 11, "minExtent": 30, "maxExtent": 30,
       "values": [0, 25, 50, 75, 100], "labelExpr": "datum.value == 0 || datum.value == 100 ? datum.label : ''",
       "labelAngle": -90, "labelFontSize": 16, "labelBaseline": "alphabetic",
       "labelAlign": {"condition": {"test": "datum.value == 0", "value": "left"}, "value": "right"},
       "tickColor": {"condition": {"test": "datum.value == 100", "value": "#999999"}, "value": "black"},
       "tickSize": 9, "labelPadding": 4}},
   "order": {"field": "stackRank", "type": "quantitative", "sort": "ascending"},
   "color": {"field": "mineral", "type": "nominal",
     "scale": {"domain": ["Muscovite","Kaolinite-WX","Dickite","MuscoviticIllite","Chlorite-FeMg","Phengite","Aspectral","Serpentine","Alunite-Na","Phlogopite","Hornblende","Paragonite","Montmorillonite","PhengiticIllite"],
               "range": ["#FFFF00","#FF0000","#0EEA0E","#8C552E","#4A7FBE","#6B3C50","#942E94","#5A3B6B","#F2B062","#C49CF8","#1C8C1C","#6E5A1E","#1E0B6E","#B0174A"]},
     "legend": null}
 }
},
{
 "width": 95, "height": 293,
 "data": {"name": "minerals"},
 "title": {"text": "Mineral", "fontSize": 17, "fontWeight": "bold", "offset": 1, "anchor": "middle"},
 "encoding": {
   "y": {"field": "mineral", "type": "nominal", "sort": null, "axis": null, "scale": {"paddingInner": 0, "paddingOuter": 0, "range": [-19, 293]}}
 },
 "layer": [
  {"mark": {"type": "rect"},
   "encoding": {
     "x": {"datum": 0, "type": "quantitative", "scale": {"domain": [0, 1]}, "axis": null},
     "x2": {"datum": 1},
     "color": {"field": "mineral", "type": "nominal", "legend": null,
       "scale": {"domain": ["PhengiticIllite","Montmorillonite","Paragonite","Hornblende","Phlogopite","Alunite-Na","Serpentine","Aspectral","Phengite","Chlorite-FeMg","MuscoviticIllite","Dickite","Kaolinite-WX","Muscovite"],
                 "range": ["#B0174A","#1E0B6E","#6E5A1E","#1C8C1C","#C49CF8","#F2B062","#5A3B6B","#942E94","#6B3C50","#4A7FBE","#8C552E","#0EEA0E","#FF0000","#FFFF00"]}}}},
  {"mark": {"type": "text", "align": "left", "baseline": "middle", "fontSize": 14, "font": "Liberation Sans", "dx": 1},
   "encoding": {
     "x": {"datum": 0, "type": "quantitative"},
     "text": {"field": "mineral"},
     "color": {"field": "mineral", "type": "nominal", "legend": null,
       "scale": {"domain": ["PhengiticIllite","Montmorillonite","Paragonite","Hornblende","Phlogopite","Alunite-Na","Serpentine","Aspectral","Phengite","Chlorite-FeMg","MuscoviticIllite","Dickite","Kaolinite-WX","Muscovite"],
                 "range": ["#FFFFFF","#FFFFFF","#FFFFFF","#FFFFFF","#111111","#FFFFFF","#FFFFFF","#FFFFFF","#FFFFFF","#111111","#FFFFFF","#111111","#FFFFFF","#111111"]}}}}
 ],
 "resolve": {"scale": {"color": "independent"}}
}
]
}
